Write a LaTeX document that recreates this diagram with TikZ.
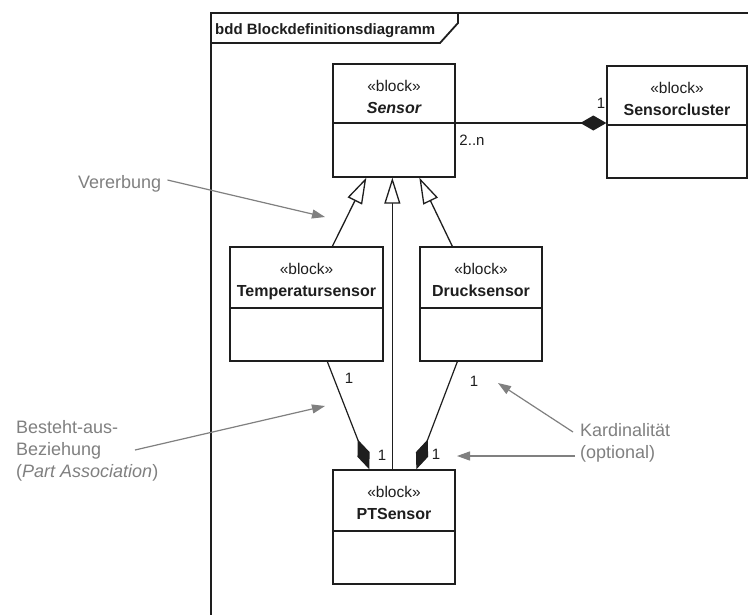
\documentclass[tikz,border=0pt]{standalone}
\usepackage{fontspec}
\setmainfont{Liberation Sans}
\usetikzlibrary{arrows.meta}

\definecolor{ink}{HTML}{1E1E1E}
\definecolor{note}{HTML}{808080}

\tikzset{
  blk/.style={draw=ink, line width=1.3pt, fill=white, rectangle, inner sep=0pt},
  blkline/.style={draw=ink, line width=1.3pt},
  stereo/.style={font=\fontsize{15.5}{18}\selectfont, text=ink, inner sep=0pt},
  bname/.style={font=\fontsize{16}{19}\selectfont\bfseries, text=ink, inner sep=0pt},
  mult/.style={font=\fontsize{15}{18}\selectfont, text=ink, inner sep=0pt},
  framestyle/.style={draw=ink, line width=1.8pt},
  gen/.style={draw=ink, line width=1.3pt, -{Triangle[open, length=26pt, width=16pt, fill=white, line width=1.3pt]}},
  compo/.style={draw=ink, line width=1.2pt, -{Diamond[length=32pt, width=13pt]}},
  compoh/.style={draw=ink, line width=2.4pt, -{Diamond[length=26pt, width=15pt]}},
  notetext/.style={font=\fontsize{18}{22}\selectfont, text=note, inner sep=0pt, align=left},
  notearrow/.style={draw=note, line width=1.2pt, -{Triangle[length=13pt, width=9pt]}},
}

% block with a title compartment and an empty body compartment
% #1 name, #2 left, #3 top, #4 right, #5 bottom, #6 divider, #7 title
\newcommand{\sysblock}[7]{%
  \node[blk, minimum width={(#4-#2)*1pt}, minimum height={(#5-#3)*1pt}] (#1) at ({(#2+#4)/2},{(#3+#5)/2}) {};
  \draw[blkline] (#2,#6) -- (#4,#6);
  \node[stereo, anchor=base] (#1-st) at ({(#2+#4)/2},{#3+27}) {«block»};
  \node[bname, anchor=base] (#1-nm) at ({(#2+#4)/2},{#3+49}) {#7};
}

\begin{document}
\begin{tikzpicture}[x=1pt, y=-1pt]
  \useasboundingbox (0,0) rectangle (748,614);
  \fill[white] (0,0) rectangle (748,614);
  \clip (0,0) rectangle (748,614);

  % diagram frame with its name tab
  \draw[framestyle] (211,640) -- (211,13) -- (770,13);
  \draw[framestyle] (211,43) -- (440,43) -- (458,23) -- (458,13);
  \node[font=\fontsize{15}{18}\selectfont\bfseries, text=ink, inner sep=0pt, anchor=base west] (title) at (215,34) {bdd Blockdefinitionsdiagramm};

  % blocks
  \sysblock{sensor}{333}{64}{455}{177}{123}{\itshape Sensor}
  \sysblock{cluster}{607}{66}{747}{178}{125}{Sensorcluster}
  \sysblock{temp}{230}{247}{383}{361}{308}{Temperatursensor}
  \sysblock{druck}{420}{247}{542}{361}{308}{Drucksensor}
  \sysblock{pt}{333}{470}{455}{584}{531}{PTSensor}

  % generalizations
  \draw[gen] ([xshift=103pt]temp.north west) -- ([xshift=34pt]sensor.south west);
  \draw[gen] ([xshift=60pt]pt.north west) -- ([xshift=60pt]sensor.south west);
  \draw[gen] ([xshift=33pt]druck.north west) -- ([xshift=87pt]sensor.south west);

  % composition Sensorcluster -> Sensor
  \draw[compoh] ([yshift=-2.5pt]sensor.east) -- ([yshift=-2.5pt]sensor.east -| cluster.west);
  \node[mult] (m-cl) at (601,103) {1};
  \node[mult] (m-sn) at (472,140) {2..n};

  % compositions PTSensor -> parts
  \draw[compo] ([xshift=98pt]temp.south west) -- ([xshift=37pt]pt.north west);
  \draw[compo] ([xshift=38pt]druck.south west) -- ([xshift=84pt]pt.north west);
  \node[mult] (m-t) at (349,378) {1};
  \node[mult] (m-d) at (474,381) {1};
  \node[mult] (m-pl) at (382,455) {1};
  \node[mult] (m-pr) at (436,454) {1};

  % explanatory notes
  \node[notetext, anchor=west] (n-ver) at (78,184) {Vererbung};
  \coordinate (t-ver) at (325,217);
  \draw[notearrow] ([xshift=6pt,yshift=4pt]n-ver.east) -- (t-ver);

  \node[notetext, anchor=north west] (n-part) at (16,420) {Besteht-aus-\\Beziehung\\(\textit{Part Association})};
  \coordinate (t-part) at (325,406);
  \draw[notearrow] (135,450) -- (t-part);

  \node[notetext, anchor=north west] (n-kard) at (580,423) {Kardinalität\\(optional)};
  \coordinate (t-k1) at (498,383);
  \coordinate (t-k2) at (457,456);
  \draw[notearrow] (573,432) -- (t-k1);
  \draw[notearrow] (575,456) -- (t-k2);
\end{tikzpicture}
\end{document}
